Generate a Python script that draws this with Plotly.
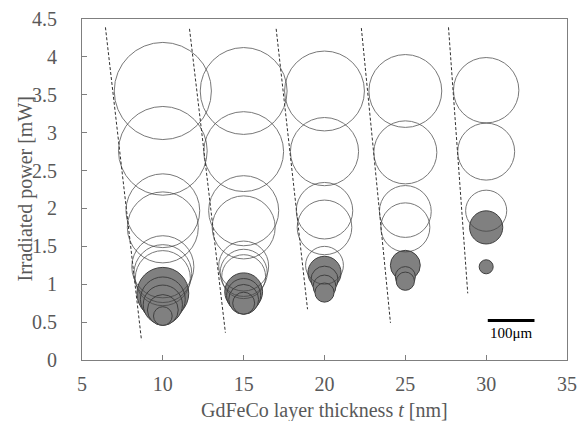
import plotly.graph_objects as go

# ---------------- data ----------------
x_ticks = [5, 10, 15, 20, 25, 30, 35]
x_tick_labels = ["5", "10", "15", "20", "25", "30", "35"]
y_ticks = [0, 0.5, 1, 1.5, 2, 2.5, 3, 3.5, 4, 4.5]
y_tick_labels = ["0", "0.5", "1", "1.5", "2", "2.5", "3", "3.5", "4", "4.5"]
x_title = "GdFeCo layer thickness <i>t</i> [nm]"
y_title = "Irradiated power [mW]"

# not switched (open circles): thickness, power [mW], spot diameter [um]
open_t = [10, 10, 10, 10, 10, 10, 10,
          15, 15, 15, 15, 15, 15, 15,
          20, 20, 20, 20, 20,
          25, 25, 25, 25,
          30, 30, 30]
open_p = [3.55, 2.76, 1.97, 1.75, 1.23, 1.14, 1.08,
          3.55, 2.75, 1.97, 1.75, 1.24, 1.15, 1.10,
          3.55, 2.75, 1.97, 1.75, 1.25,
          3.55, 2.74, 1.96, 1.75,
          3.56, 2.75, 1.97]
open_d = [208, 190, 158, 152, 133, 124, 118,
          186, 171, 150, 135, 107, 101, 94,
          171, 146, 121, 117, 81,
          156, 135, 111, 105,
          140, 122, 88]

# switched (filled circles)
fill_t = [10, 10, 10, 10, 10,
          15, 15, 15, 15,
          20, 20, 20, 20,
          25, 25, 25,
          30, 30]
fill_p = [0.88, 0.80, 0.73, 0.66, 0.58,
          0.90, 0.85, 0.80, 0.75,
          1.15, 1.06, 0.97, 0.89,
          1.25, 1.10, 1.04,
          1.75, 1.23]
fill_d = [111, 96, 84, 66, 40,
          81, 73, 64, 47,
          71, 58, 49, 41,
          64, 43, 39,
          71, 30]

# dashed threshold boundaries (top point -> bottom point)
bound_x_top = [6.45, 11.65, 17.01, 22.28, 27.67]
bound_y_top = [4.39, 4.37, 4.37, 4.38, 4.39]
bound_x_bot = [8.68, 13.87, 18.95, 24.08, 28.86]
bound_y_bot = [0.26, 0.36, 0.67, 0.49, 0.88]

scale_um = 100
scale_label = "100μm"

# ---------------- styling / scale ----------------
# the page body adds an 8px offset, so the figure is slightly smaller than the window
W, H = 578, 413
M = dict(l=74, r=19, t=11, b=61)
X_RANGE = [5, 35]
Y_RANGE = [0, 4.5]
PX_PER_UM = 0.467  # image scale of the spot micrographs
plot_w = W - M["l"] - M["r"]
plot_h = H - M["t"] - M["b"]
px_per_x = plot_w / (X_RANGE[1] - X_RANGE[0])

GREY_TXT = "#595959"
AX_COL = "#7f7f7f"
FONT = "Liberation Serif, Times New Roman, serif"
FS = 20

fig = go.Figure()

for i in range(len(bound_x_top)):
    fig.add_trace(go.Scatter(
        x=[bound_x_top[i], bound_x_bot[i]], y=[bound_y_top[i], bound_y_bot[i]],
        mode="lines", line=dict(color="#303030", width=1, dash="3px,2px"),
        hoverinfo="skip", showlegend=False))

fig.add_trace(go.Scatter(
    x=fill_t, y=fill_p, mode="markers",
    marker=dict(size=[d * PX_PER_UM for d in fill_d], sizemode="diameter",
                color="#808080", line=dict(color="#404040", width=1), opacity=1),
    showlegend=False))

fig.add_trace(go.Scatter(
    x=open_t, y=open_p, mode="markers",
    marker=dict(size=[d * PX_PER_UM for d in open_d], sizemode="diameter",
                color="rgba(0,0,0,0)", line=dict(color="#404040", width=1)),
    showlegend=False))

# scale bar
bar_len = scale_um * PX_PER_UM / px_per_x
bar_x0 = 30.1
bar_y = 0.52
fig.add_shape(type="line", xref="x", yref="y", x0=bar_x0, x1=bar_x0 + bar_len,
              y0=bar_y, y1=bar_y, line=dict(color="black", width=3))
fig.add_annotation(x=bar_x0 + bar_len / 2, y=0.36, xref="x", yref="y",
                   text=scale_label, showarrow=False,
                   font=dict(family=FONT, size=15, color="black"))

# axis titles
fig.add_annotation(x=0.5, y=-50 / plot_h, xref="paper", yref="paper",
                   text=x_title, showarrow=False, xanchor="center", yanchor="middle",
                   font=dict(family=FONT, size=FS, color=GREY_TXT))
fig.add_annotation(x=-57 / plot_w, y=0.5, xref="paper", yref="paper",
                   text=y_title, showarrow=False, textangle=-90,
                   xanchor="center", yanchor="middle",
                   font=dict(family=FONT, size=FS, color=GREY_TXT))

fig.update_layout(
    width=W, height=H, margin=M,
    paper_bgcolor="white", plot_bgcolor="white",
    font=dict(family=FONT, size=FS, color=GREY_TXT),
    showlegend=False,
    xaxis=dict(range=X_RANGE, tickvals=x_ticks, ticktext=x_tick_labels,
               ticks="inside", ticklen=5, tickcolor=AX_COL,
               showline=True, linecolor=AX_COL, linewidth=1, mirror=True,
               showgrid=False, zeroline=False, automargin=False,
               ticklabelstandoff=6,
               tickfont=dict(size=FS, color=GREY_TXT)),
    yaxis=dict(range=Y_RANGE, tickvals=y_ticks, ticktext=y_tick_labels,
               ticks="inside", ticklen=5, tickcolor=AX_COL,
               showline=True, linecolor=AX_COL, linewidth=1, mirror=True,
               showgrid=False, zeroline=False, automargin=False,
               ticklabelstandoff=20,
               tickfont=dict(size=FS, color=GREY_TXT)),
)

fig.write_html("out.html")
